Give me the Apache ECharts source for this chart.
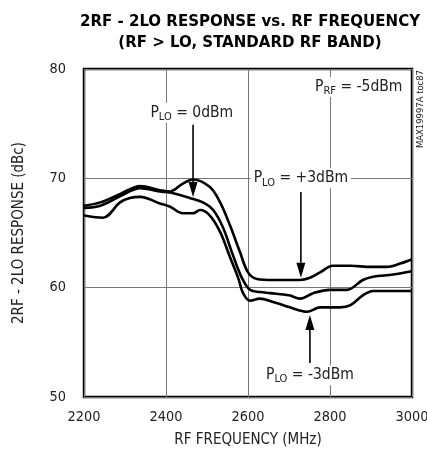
<!DOCTYPE html>
<html>
<head>
<meta charset="utf-8">
<script src="https://cdn.jsdelivr.net/npm/echarts@6/dist/echarts.min.js"></script>
<style>
html,body{margin:0;padding:0;background:#fff;}
#c{width:427px;height:459px;}
</style>
</head>
<body>
<div id="c"></div>
<script>
// ---- data ----
var xTicks = [2200, 2400, 2600, 2800, 3000];
var yTicks = [50, 60, 70, 80];

var freqP3 = [2200, 2240, 2290, 2337, 2385, 2410, 2440, 2466, 2507, 2532, 2556, 2580, 2600, 2622, 2661, 2727, 2751, 2776, 2807, 2850, 2900, 2939, 2971, 3000];
var valP3  = [67.5, 67.8, 68.6, 69.3, 68.9, 68.8, 69.5, 69.9, 69.2, 67.8, 65.7, 63.3, 61.4, 60.8, 60.7, 60.7, 60.9, 61.4, 62.0, 62.0, 61.9, 61.9, 62.2, 62.6];

var freq0 = [2200, 2240, 2290, 2337, 2385, 2410, 2458, 2490, 2515, 2539, 2563, 2585, 2605, 2629, 2654, 2700, 2727, 2759, 2800, 2841, 2880, 2905, 2954, 3000];
var val0  = [67.3, 67.5, 68.4, 69.1, 68.8, 68.7, 68.2, 67.8, 67.1, 65.5, 63.0, 60.9, 59.8, 59.6, 59.5, 59.3, 59.0, 59.5, 59.8, 59.8, 60.7, 61.0, 61.2, 61.5];

var freqM3 = [2200, 2246, 2288, 2312, 2337, 2385, 2410, 2441, 2466, 2483, 2507, 2532, 2556, 2576, 2588, 2605, 2629, 2661, 2702, 2744, 2776, 2824, 2850, 2880, 2905, 3000];
var valM3  = [66.6, 66.4, 67.8, 68.2, 68.3, 67.7, 67.4, 66.8, 66.8, 67.1, 66.6, 65.1, 62.8, 60.9, 59.5, 58.8, 59.0, 58.7, 58.2, 57.8, 58.2, 58.2, 58.4, 59.3, 59.7, 59.7];

// annotation anchors in data units
var arrow0  = {x: 2466, from: 74.9, to: 68.3};
var arrowP3 = {x: 2729, from: 68.75, to: 60.9};
var arrowM3 = {x: 2751, from: 53.1, to: 57.5};
var label0  = {x: 2463, y: 76.0, main: 'P', sub: 'LO', val: ' = 0dBm'};
var labelP3 = {x: 2729, y: 70.0, main: 'P', sub: 'LO', val: ' = +3dBm'};
var labelM3 = {x: 2751, y: 52.0, main: 'P', sub: 'LO', val: ' = -3dBm'};
var labelRF = {x: 2870, y: 78.35, main: 'P', sub: 'RF', val: ' = -5dBm'};

var titleLines = ['2RF - 2LO RESPONSE vs. RF FREQUENCY', '(RF > LO, STANDARD RF BAND)'];
var xName = 'RF FREQUENCY (MHz)';
var yName = '2RF - 2LO RESPONSE (dBc)';
var watermark = 'MAX19997A toc87';

function pairs(xs, ys){ return xs.map(function(x,i){ return [x, ys[i]]; }); }

// font detection / sizing
var cv = document.createElement('canvas').getContext('2d');
function w(txt, fam, size, bold){ cv.font = (bold?'bold ':'') + size + 'px ' + fam; return cv.measureText(txt).width; }
var hasNarrow = w('abcdefghijklmnop', "'Liberation Sans Narrow', monospace", 40) !== w('abcdefghijklmnop', 'monospace', 40);
var FONT = hasNarrow ? "'Liberation Sans Narrow'" : "'DejaVu Sans Condensed','DejaVu Sans',sans-serif";
function fit(txt, target, bold){ return Math.round(10 * 40 * target / w(txt, FONT, 40, bold)) / 10; }

var titleSize = fit(titleLines[0], 340, true);
var tickSize = fit('2200', 33, false);
var nameSize = fit(xName, 147, false);
var annSize = fit('P = 0dBm', 70, false);
var wmSize = fit(watermark, 78, false);

var chart = echarts.init(document.getElementById('c'), null, {renderer:'canvas'});

var lineStyle = {color:'#000', width:2.6};
chart.setOption({
  animation:false,
  backgroundColor:'#fff',
  title:{
    text:titleLines.join('\n'),
    left:245, top:6, textAlign:'center',
    textStyle:{fontFamily:FONT, fontWeight:'bold', fontSize:titleSize, lineHeight:21, color:'#000'}
  },
  grid:{left:84, right:15, top:69, bottom:62, show:true, borderColor:'#000', borderWidth:2.5,
        backgroundColor:'transparent', containLabel:false, outerBoundsMode:'none'},
  xAxis:{
    type:'value', min:2200, max:3000, interval:200,
    name:xName, nameLocation:'middle', nameGap:36,
    nameTextStyle:{fontFamily:FONT, fontSize:nameSize, color:'#222'},
    axisLine:{show:false}, axisTick:{show:false},
    axisLabel:{fontFamily:FONT, fontSize:tickSize, color:'#222', margin:13, formatter:function(v){return String(v);}},
    splitLine:{show:true, lineStyle:{color:'#777', width:1}}
  },
  yAxis:{
    type:'value', min:50, max:80, interval:10,
    name:yName, nameLocation:'middle', nameGap:57,
    nameTextStyle:{fontFamily:FONT, fontSize:nameSize, color:'#222'},
    axisLine:{show:false}, axisTick:{show:false},
    axisLabel:{fontFamily:FONT, fontSize:tickSize, color:'#222', margin:18, formatter:function(v){return String(v);}},
    splitLine:{show:true, lineStyle:{color:'#777', width:1}}
  },
  series:[
    {type:'line', data:pairs(freqP3, valP3), smooth:0.35, symbol:'none', lineStyle:lineStyle, z:5},
    {type:'line', data:pairs(freq0, val0), smooth:0.35, symbol:'none', lineStyle:lineStyle, z:5},
    {type:'line', data:pairs(freqM3, valM3), smooth:0.35, symbol:'none', lineStyle:lineStyle, z:5}
  ]
});

function px(x,y){ return chart.convertToPixel({gridIndex:0}, [x,y]); }

function labelEl(l){
  var p = px(l.x, l.y);
  return {
    type:'text', x:p[0], y:p[1], z:20,
    style:{
      text:'{m|'+l.main+'}{s|'+l.sub+'}{m|'+l.val+'}',
      align:'center', verticalAlign:'middle',
      backgroundColor:'#fff',
      padding:[0,3,0,3],
      rich:{
        m:{fontFamily:FONT, fontSize:annSize, lineHeight:20, verticalAlign:'middle', fill:'#222'},
        s:{fontFamily:FONT, fontSize:Math.round(annSize*0.72), lineHeight:12, verticalAlign:'bottom', fill:'#222'}
      }
    }
  };
}

function arrowEls(a){
  var p1 = px(a.x, a.from), p2 = px(a.x, a.to);
  var dir = p2[1] > p1[1] ? 1 : -1;
  var headLen = 15, headW = 4.5;
  var base = p2[1] - dir*headLen;
  return [
    {type:'line', z:20, shape:{x1:p1[0], y1:p1[1], x2:p1[0], y2:base}, style:{stroke:'#000', lineWidth:1.6}},
    {type:'polygon', z:20, shape:{points:[[p2[0],p2[1]],[p2[0]-headW,base],[p2[0]+headW,base]]}, style:{fill:'#000'}}
  ];
}

var g = [];
g = g.concat(arrowEls(arrow0), arrowEls(arrowP3), arrowEls(arrowM3));
g.push(labelEl(label0), labelEl(labelP3), labelEl(labelM3), labelEl(labelRF));
g.push({
  type:'text', x:421, y:109, rotation:Math.PI/2, z:20,
  style:{text:watermark, align:'center', verticalAlign:'middle', fontFamily:FONT, fontSize:wmSize, fill:'#222'}
});
chart.setOption({graphic:g});
</script>
</body>
</html>
